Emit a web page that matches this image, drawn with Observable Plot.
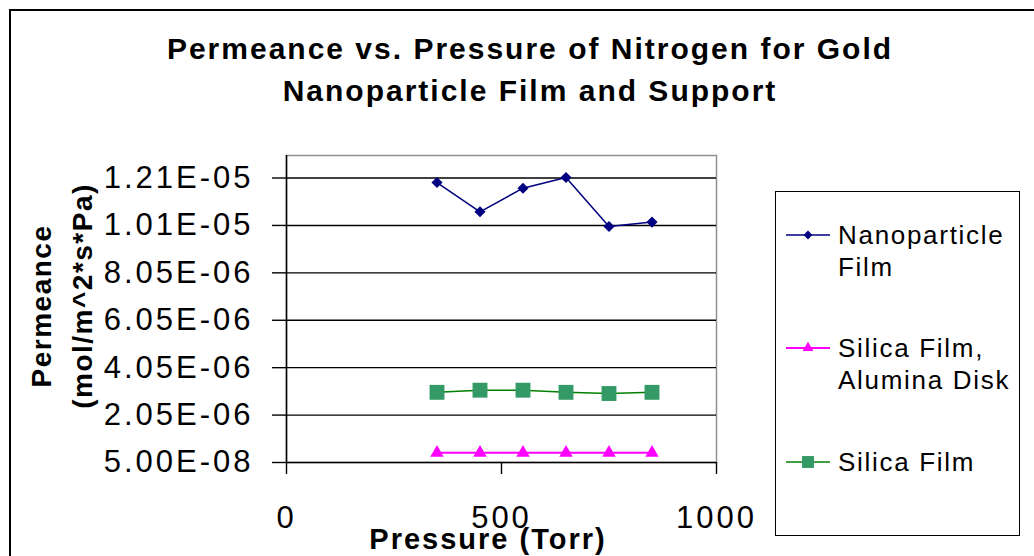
<!DOCTYPE html>
<html>
<head>
<meta charset="utf-8">
<script src="https://cdn.jsdelivr.net/npm/d3@7"></script>
<script src="https://cdn.jsdelivr.net/npm/@observablehq/plot@0.6"></script>
<style>
  html, body { margin: 0; padding: 0; background: #fff; width: 1034px; height: 556px; overflow: hidden;
    font-family: "Liberation Sans", Arial, sans-serif; color: #000; }
  #wrap { position: relative; width: 1034px; height: 556px; overflow: hidden; }
  #border { position: absolute; left: 9px; top: 9px; width: 1100px; height: 600px;
    border-left: 2px solid #000; border-top: 2px solid #000; }
  #chart { position: absolute; left: 0; top: 0; }
  .title { position: absolute; left: 530px; top: 28px; transform: translateX(-50%); white-space: nowrap;
    font-weight: bold; font-size: 30px; line-height: 42px; letter-spacing: 2px; text-align: center; }
  .ylab { position: absolute; white-space: nowrap; font-weight: bold; font-size: 28px; line-height: 28px;
    letter-spacing: 1.5px; transform: translate(-50%, -50%) rotate(-90deg); }
  .xlab { position: absolute; left: 488px; top: 525px; transform: translateX(-50%); white-space: nowrap;
    font-weight: bold; font-size: 29px; line-height: 29px; letter-spacing: 2px; }
  #legend { position: absolute; left: 775px; top: 191px; width: 245px; height: 345px; border: 1.5px solid #000;
    box-sizing: border-box; background: #fff; }
  .swatch { position: absolute; left: 786px; }
  .ltext { position: absolute; left: 838px; font-size: 26px; line-height: 32px; letter-spacing: 1.7px; white-space: nowrap; }
</style>
</head>
<body>
<div id="wrap">
  <div id="border"></div>
  <div class="title">Permeance vs. Pressure of Nitrogen for Gold<br>Nanoparticle Film and Support</div>
  <div id="chart"></div>
  <div class="ylab" style="left:42px; top:306px;">Permeance</div>
  <div class="ylab" style="left:83px; top:296px;">(mol/m^2*s*Pa)</div>
  <div class="xlab">Pressure (Torr)</div>
  <div id="legend"></div>
</div>
<script>
// Nitrogen permeance measured at each feed pressure
const pressure = [350, 450, 550, 650, 750, 850];
const nanoparticleFilm = [1.186e-5, 1.0625e-5, 1.162e-5, 1.207e-5, 1.0005e-5, 1.019e-5];
const silicaFilmAluminaDisk = [4.6e-7, 4.6e-7, 4.6e-7, 4.6e-7, 4.6e-7, 4.6e-7];
const silicaFilm = [3.01e-6, 3.10e-6, 3.10e-6, 3.01e-6, 2.96e-6, 3.01e-6];

const seriesNames = ["Nanoparticle Film", "Silica Film, Alumina Disk", "Silica Film"];
const legendLines = [["Nanoparticle", "Film"], ["Silica Film,", "Alumina Disk"], ["Silica Film"]];

// Axis ticks and their printed labels
const yTickValues = [5e-8, 2.05e-6, 4.05e-6, 6.05e-6, 8.05e-6, 1.005e-5, 1.205e-5];
const yTickLabels = ["5.00E-08", "2.05E-06", "4.05E-06", "6.05E-06", "8.05E-06", "1.01E-05", "1.21E-05"];
const xTickValues = [0, 500, 1000];
const xTickLabels = ["0", "500", "1000"];
const yDomain = [5e-8, 1.3e-5];
const xDomain = [0, 1000];

const styles = [
  {stroke: "#000080", fill: "#000080", symbol: "diamond2", r: 5, width: 1.5},
  {stroke: "#FF00FF", fill: "#FF00FF", symbol: "triangle", r: 5, width: 2},
  {stroke: "#008000", fill: "#339966", symbol: "square", r: 8.4, width: 1.5}
];

const seriesValues = [nanoparticleFilm, silicaFilmAluminaDisk, silicaFilm];
const rows = seriesValues.map((vals, s) => pressure.map((p, i) => ({series: seriesNames[s], pressure: p, permeance: vals[i]})));

const marks = [
  Plot.frame({stroke: "#909090", strokeWidth: 1.5}),
  Plot.ruleY(yTickValues, {stroke: "#000", strokeWidth: 1.4}),
  Plot.ruleX([xDomain[0]], {stroke: "#000", strokeWidth: 1.5}),
  Plot.axisY({ticks: yTickValues, tickFormat: d => yTickLabels[yTickValues.indexOf(d)],
    tickSize: 14, tickPadding: 19, fontSize: 31, label: null, strokeWidth: 1.4}),
  Plot.axisX({ticks: xTickValues, tickFormat: d => xTickLabels[xTickValues.indexOf(d)],
    tickSize: 12, tickPadding: 31, fontSize: 31, label: null, strokeWidth: 1.4})
];
rows.forEach((data, s) => {
  const st = styles[s];
  marks.push(Plot.line(data, {x: "pressure", y: "permeance", stroke: st.stroke, strokeWidth: st.width}));
  marks.push(Plot.dot(data, {x: "pressure", y: "permeance", symbol: st.symbol, r: st.r, fill: st.fill}));
});

const chart = Plot.plot({
  width: 1034,
  height: 556,
  marginLeft: 286,
  marginRight: 318,
  marginTop: 155,
  marginBottom: 94,
  style: {fontFamily: '"Liberation Sans", Arial, sans-serif', background: "transparent", color: "#000", overflow: "visible"},
  x: {domain: xDomain},
  y: {domain: yDomain},
  marks
});
d3.select(chart).selectAll("g[aria-label='y-axis tick label'], g[aria-label='x-axis tick label']")
  .style("letter-spacing", "3px").attr("fill", "#000");
document.getElementById("chart").appendChild(chart);

// Legend: swatch (line + marker) and wrapped series name
const legendCenters = [235, 348, 462];
const wrap = d3.select("#wrap");
styles.forEach((st, s) => {
  const cy = legendCenters[s];
  const sw = wrap.append("svg").attr("class", "swatch")
    .attr("width", 46).attr("height", 20)
    .style("top", (cy - 10) + "px");
  sw.append("line").attr("x1", 0).attr("x2", 44).attr("y1", 10).attr("y2", 10)
    .attr("stroke", st.stroke).attr("stroke-width", st.width);
  const sym = d3.symbol().type({diamond2: d3.symbolDiamond2, triangle: d3.symbolTriangle, square: d3.symbolSquare}[st.symbol])
    .size(Math.PI * (st.r * 0.8) ** 2);
  sw.append("path").attr("d", sym()).attr("transform", "translate(22,10)").attr("fill", st.fill);
  wrap.append("div").attr("class", "ltext").style("top", (cy - 16) + "px")
    .html(legendLines[s].join("<br>"));
});
</script>
</body>
</html>
